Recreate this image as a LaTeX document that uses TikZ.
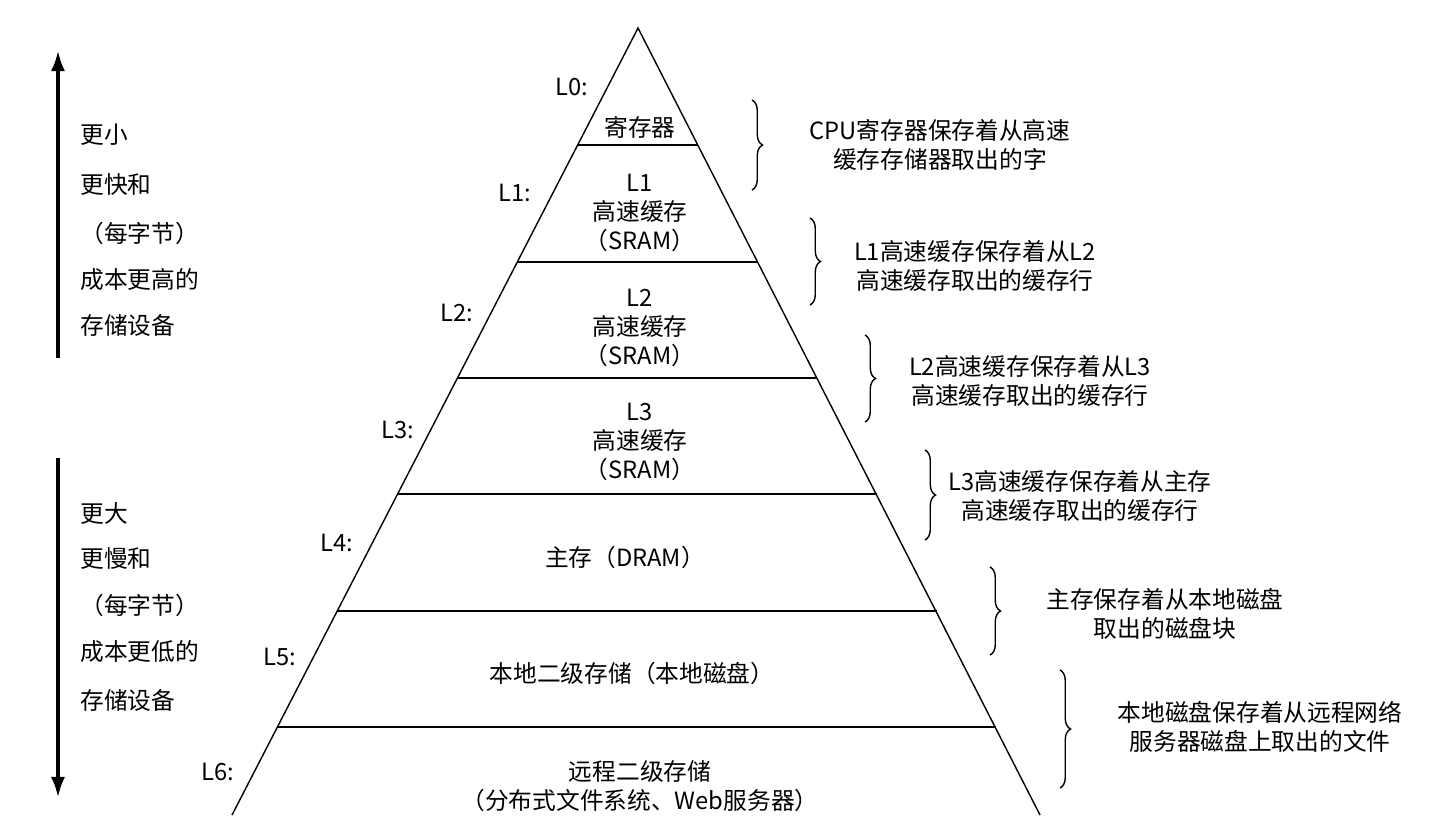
\documentclass[tikz,border=0pt]{standalone}
\usepackage{fontspec}
\setmainfont{Noto Sans CJK SC}
\usetikzlibrary{decorations.pathreplacing, arrows.meta}

\begin{document}
\begin{tikzpicture}[
    x=0.02cm, y=-0.02cm,
    every node/.style={font=\fontsize{13.5}{16}\selectfont, inner sep=0pt},
    layer/.style={align=center, font=\fontsize{13.5}{16.5}\selectfont},
    level/.style={anchor=center},
    note/.style={align=center, font=\fontsize{13.5}{16.5}\selectfont},
    side/.style={anchor=west},
    brace/.style={decorate, decoration={brace, amplitude=6pt}, thick},
    arrow/.style={line width=2.2pt, -{Latex[length=12pt, width=8pt]}}
]
\useasboundingbox (0,0) rectangle (1452,833);

% pyramid
\coordinate (apex) at (638,28);
\coordinate (bl) at (232,815);
\coordinate (br) at (1040,815);
\draw[thick] (bl) -- (apex) -- (br);
\foreach \y in {145,262,378,494,611,727}
  \draw[thick] ({638-0.516*(\y-28)},\y) -- ({638+0.512*(\y-28)},\y);

% level labels
\node[level] (l0) at (572,87) {L0:};
\node[level] (l1) at (515,193) {L1:};
\node[level] (l2) at (457,313) {L2:};
\node[level] (l3) at (398,430) {L3:};
\node[level] (l4) at (337,543) {L4:};
\node[level] (l5) at (280,657) {L5:};
\node[level] (l6) at (218,772) {L6:};

% layer contents
\node[layer] (reg) at (640,127) {寄存器};
\node[layer] (c1) at (640,213) {L1\\高速缓存\\（SRAM）};
\node[layer] (c2) at (640,328) {L2\\高速缓存\\（SRAM）};
\node[layer] (c3) at (640,442) {L3\\高速缓存\\（SRAM）};
\node[layer] (mem) at (625,557) {主存（DRAM）};
\node[layer] (disk) at (632,673) {本地二级存储（本地磁盘）};
\node[layer] (remote) at (640,786) {远程二级存储\\（分布式文件系统、Web服务器）};

% braces and notes
\draw[brace] (752,100) -- (752,190);
\node[note] (n0) at (940,145) {CPU寄存器保存着从高速\\缓存存储器取出的字};
\draw[brace] (810,218) -- (810,305);
\node[note] (n1) at (975,266) {L1高速缓存保存着从L2\\高速缓存取出的缓存行};
\draw[brace] (865,335) -- (865,422);
\node[note] (n2) at (1030,381) {L2高速缓存保存着从L3\\高速缓存取出的缓存行};
\draw[brace] (925,450) -- (925,540);
\node[note] (n3) at (1080,496) {L3高速缓存保存着从主存\\高速缓存取出的缓存行};
\draw[brace] (990,567) -- (990,655);
\node[note] (n4) at (1165,614) {主存保存着从本地磁盘\\取出的磁盘块};
\draw[brace] (1060,670) -- (1060,788);
\node[note] (n5) at (1260,727) {本地磁盘保存着从远程网络\\服务器磁盘上取出的文件};

% left arrows
\coordinate (upb) at (58,358);
\coordinate (upt) at (58,50);
\coordinate (dnt) at (58,458);
\coordinate (dnb) at (58,798);
\draw[arrow] (upb) -- (upt);
\draw[arrow] (dnt) -- (dnb);
\node[side] (s1) at (80,135) {更小};
\node[side] (s2) at (80,185) {更快和};
\node[side] (s3) at (80,233) {（每字节）};
\node[side] (s4) at (80,280) {成本更高的};
\node[side] (s5) at (80,325) {存储设备};
\node[side] (t1) at (80,513) {更大};
\node[side] (t2) at (80,558) {更慢和};
\node[side] (t3) at (80,605) {（每字节）};
\node[side] (t4) at (80,652) {成本更低的};
\node[side] (t5) at (80,700) {存储设备};
\end{tikzpicture}
\end{document}
